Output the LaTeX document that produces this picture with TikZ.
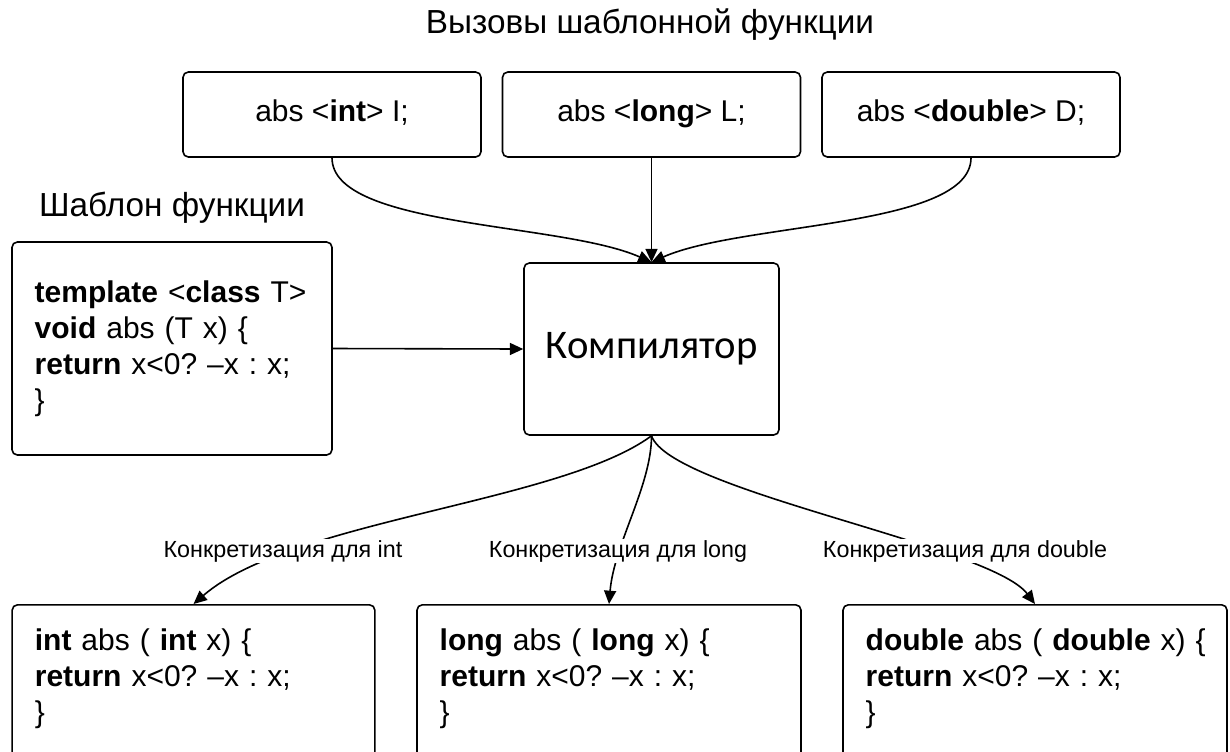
\documentclass[tikz,border=0pt]{standalone}
\usepackage{fontspec}
\setmainfont{Liberation Sans}
\newfontfamily\compfont{Carlito}
\usetikzlibrary{arrows.meta}
\frenchspacing

\tikzset{
  box/.style={draw, line width=1.2pt, rounded corners=4pt,
    font=\fontsize{22.5}{27}\selectfont},
  callbox/.style={box, minimum width=223.5pt, minimum height=63.75pt,
    text height=16pt, text depth=5pt},
  codebox/.style={box, align=left, inner xsep=17pt},
  resbox/.style={codebox, anchor=north, inner ysep=18pt, text depth=150pt},
  link/.style={line width=1.2pt, -{Triangle[length=10pt,width=9pt]}},
  tag/.style={fill=white, inner sep=1pt, font=\fontsize{17.5}{20}\selectfont},
  caption/.style={font=\fontsize{25}{30}\selectfont}
}

\begin{document}
\begin{tikzpicture}[x=0.75pt, y=-0.75pt]
  \clip[use as bounding box] (0,0) rectangle (1230,751);

  \node[caption] (title) at (650,25) {Вызовы шаблонной функции};
  \node[callbox] (cint) at (332,114.5) {abs <\textbf{int}> I;};
  \node[callbox] (clong) at (651.5,114.5) {abs <\textbf{long}> L;};
  \node[callbox] (cdbl) at (971,114.5) {abs <\textbf{double}> D;};

  \node[caption] (tname) at (172,208) {Шаблон функции};
  \node[codebox, text width=206pt, minimum height=159.75pt] (tmpl) at (172,348.5)
    {\textbf{template} <\textbf{class} T>\\
     \textbf{void} abs (T x) \{\\
     \textbf{return} x<0? --x : x;\\
     \}};

  \node[box, minimum width=191.25pt, minimum height=129pt,
    font=\compfont\fontsize{30.5}{34}\selectfont] (comp) at (651.5,349) {Компилятор};

  \node[resbox, text width=238pt] (rint) at (193.5,604)
    {\mbox{\textbf{int} abs ( \textbf{int} x) \{}\\
     \textbf{return} x<0? --x : x;\\
     \}};
  \node[resbox, text width=254pt] (rlong) at (609,604)
    {\mbox{\textbf{long} abs ( \textbf{long} x) \{}\\
     \textbf{return} x<0? --x : x;\\
     \}};
  \node[resbox, text width=254pt] (rdbl) at (1035,604)
    {\mbox{\textbf{double} abs ( \textbf{double} x) \{}\\
     \textbf{return} x<0? --x : x;\\
     \}};

  \begin{scope}[link]
    \draw (cint.south) .. controls +(0,70) and +(-90,-40) .. (comp.north);
    \draw (clong.south) -- (comp.north);
    \draw (cdbl.south) .. controls +(0,70) and +(90,-40) .. (comp.north);
    \draw (tmpl.east) -- (comp.west);
    \draw (comp.south) .. controls +(-91,67) and +(97,-84) .. (rint.north);
    \draw (comp.south) .. controls +(0,50) and +(5,-60) .. (rlong.north);
    \draw (comp.south) .. controls +(19,55) and +(-45,-59) .. (rdbl.north);
  \end{scope}

  \node[tag] (lint) at (283,551) {Конкретизация для int};
  \node[tag] (llong) at (618,551) {Конкретизация для long};
  \node[tag] (ldbl) at (965,551) {Конкретизация для double};
\end{tikzpicture}
\end{document}
